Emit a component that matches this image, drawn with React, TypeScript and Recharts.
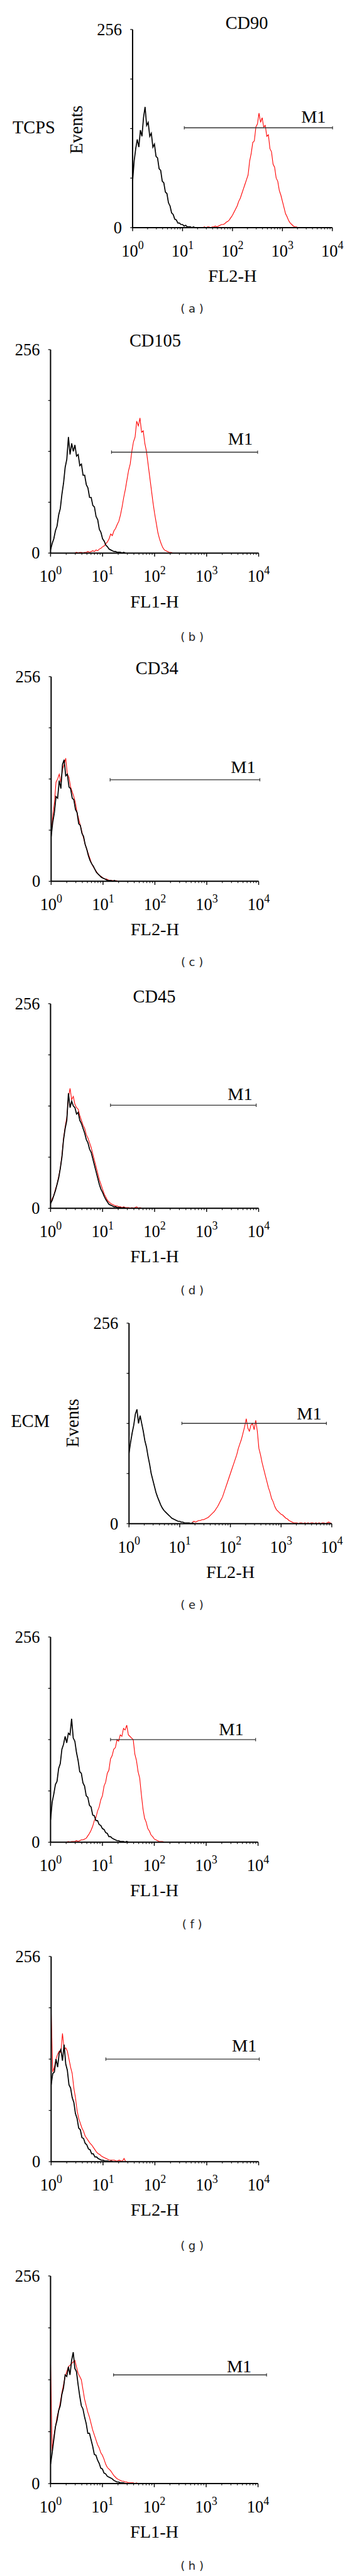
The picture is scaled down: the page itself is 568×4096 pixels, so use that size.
import { LineChart, Line, XAxis, YAxis, ReferenceLine } from "recharts";

const S = 0.946;
const W = 568;
const SERIF = '"Liberation Serif", "Times New Roman", serif';
const SANS = '"DejaVu Sans", Verdana, sans-serif';

// histogram counts are stored every STEP channels (1024 channels = 4 log decades)
const STEP = 8;

const TITLES = ["CD90", "CD105", "CD34", "CD45", "", "", "", ""];
const ROW_LABELS = ["TCPS", "", "", "", "ECM", "", "", ""];
const CHANNEL_NAMES = ["FL2-H", "FL1-H", "FL2-H", "FL1-H", "FL2-H", "FL1-H", "FL2-H", "FL1-H"];
const CAPTIONS = ["( a )", "( b )", "( c )", "( d )", "( e )", "( f )", "( g )", "( h )"];

const DECADE_TICKS = [0, 256, 512, 768, 1024];
const DECADE_EXP = ["0", "1", "2", "3", "4"];
const MINOR_TICKS = [
  77, 122, 154, 179, 199, 216, 231, 244,
  333, 378, 410, 435, 455, 472, 487, 500,
  589, 634, 666, 691, 711, 728, 743, 756,
  845, 890, 922, 947, 967, 984, 999, 1012,
];
const Y_TICKS = [0, 64, 128, 192, 256];
const Y_LABELED = [0, 256];

// M1 gate: start / end channel and height (events)
const M1_START = [265, 300, 291, 295, 267, 296, 270, 311];
const M1_END = [1025, 1019, 1030, 1012, 997, 1012, 1027, 1066];
const M1_LEVEL = [129, 127, 127, 129, 128, 128, 128, 134];

// isotype control (black), start channel 0
const ISO_A = [60, 86, 102, 114, 104, 126, 118, 142, 156, 132, 136, 118, 122, 104, 108, 92, 90, 76, 74, 60, 58, 46, 44, 32, 28, 19, 17, 11, 10, 6, 6, 4, 4, 2, 3, 1, 1, 1, 0, 1, 0, 0];
const ISO_B = [4, 12, 18, 28, 34, 48, 56, 74, 88, 108, 118, 146, 124, 138, 128, 136, 122, 124, 110, 112, 98, 98, 86, 82, 70, 70, 60, 58, 46, 42, 30, 26, 18, 15, 10, 8, 5, 4, 3, 2, 2, 1, 1, 1, 0, 1, 0];
const ISO_C = [56, 74, 86, 106, 104, 126, 116, 146, 152, 132, 134, 118, 116, 104, 102, 90, 86, 72, 70, 60, 56, 46, 40, 32, 26, 22, 19, 15, 11, 9, 7, 5, 4, 3, 2, 1, 1, 1, 0, 1, 0];
const ISO_D = [6, 10, 16, 22, 30, 38, 50, 64, 86, 100, 110, 144, 126, 134, 128, 126, 118, 120, 110, 106, 100, 94, 86, 82, 74, 70, 62, 54, 46, 38, 30, 24, 20, 15, 11, 8, 5, 4, 3, 2, 2, 1, 1, 1, 0, 1, 0];
const ISO_E = [90, 104, 116, 126, 140, 146, 128, 138, 128, 118, 106, 98, 86, 76, 64, 56, 48, 40, 34, 29, 24, 20, 17, 15, 13, 11, 9, 7, 6, 5, 4, 3, 3, 2, 2, 1, 1, 1, 1, 0, 1, 0];
const ISO_F = [28, 50, 60, 72, 76, 92, 98, 116, 122, 132, 124, 136, 134, 154, 130, 126, 112, 102, 88, 86, 74, 70, 58, 56, 46, 44, 34, 33, 27, 27, 22, 21, 17, 16, 12, 11, 7, 7, 5, 4, 3, 2, 2, 1, 1, 1, 0, 1, 0];
const ISO_G = [96, 110, 112, 128, 118, 136, 140, 126, 146, 122, 114, 96, 92, 80, 74, 60, 54, 42, 40, 30, 29, 23, 21, 16, 15, 10, 10, 6, 6, 4, 3, 2, 2, 1, 1, 1, 0, 1, 0];
const ISO_H = [24, 38, 54, 70, 78, 90, 96, 110, 118, 134, 132, 144, 134, 152, 162, 142, 138, 122, 108, 96, 92, 82, 74, 62, 62, 54, 46, 36, 35, 29, 25, 19, 18, 13, 12, 9, 8, 7, 6, 4, 3, 2, 2, 1, 1, 1, 0];

// stained sample (red)
const STAIN_START = [360, 120, 0, 0, 320, 80, 0, 0];
const STAIN_A = [0, 1, 0, 1, 1, 0, 1, 1, 2, 1, 2, 3, 4, 4, 5, 7, 8, 10, 13, 16, 20, 24, 28, 34, 38, 44, 50, 56, 62, 68, 86, 96, 110, 112, 130, 134, 148, 136, 142, 130, 132, 118, 120, 102, 98, 82, 78, 64, 60, 48, 42, 34, 26, 18, 14, 9, 6, 4, 2, 1, 1, 0];
const STAIN_B = [0, 1, 0, 1, 1, 0, 1, 1, 2, 1, 2, 3, 2, 4, 3, 5, 6, 8, 9, 12, 14, 18, 24, 22, 28, 31, 36, 40, 48, 58, 70, 80, 92, 104, 112, 128, 140, 146, 166, 160, 170, 152, 154, 138, 128, 112, 96, 80, 64, 50, 38, 26, 18, 12, 7, 4, 3, 2, 1, 1, 0];
const STAIN_C = [58, 82, 98, 124, 128, 134, 124, 140, 146, 154, 134, 130, 118, 112, 106, 98, 86, 78, 70, 62, 54, 46, 40, 34, 28, 22, 18, 15, 12, 9, 7, 6, 4, 3, 3, 2, 1, 1, 1, 0, 1, 0];
const STAIN_D = [6, 12, 16, 24, 30, 40, 50, 66, 88, 102, 114, 138, 150, 136, 140, 130, 126, 124, 116, 110, 104, 100, 92, 88, 82, 76, 68, 60, 52, 44, 36, 30, 24, 18, 14, 10, 8, 6, 5, 4, 3, 3, 2, 2, 1, 2, 1, 1, 1, 0, 1, 0, 1, 2, 0, 1, 0];
const STAIN_E = [2, 3, 2, 3, 4, 4, 5, 5, 6, 7, 8, 10, 12, 14, 16, 19, 22, 26, 30, 34, 40, 46, 52, 58, 64, 70, 76, 82, 88, 96, 102, 108, 116, 124, 134, 122, 118, 126, 128, 120, 132, 118, 96, 88, 78, 70, 62, 54, 46, 40, 32, 28, 22, 18, 16, 14, 12, 11, 9, 7, 6, 4, 3, 2, 1, 1, 1, 0, 1, 1, 0, 1, 0, 1, 0, 1, 1, 0, 1, 0, 1, 0, 1, 1, 0, 1, 2, 1, 0];
const STAIN_F = [0, 1, 0, 1, 1, 1, 2, 1, 2, 3, 3, 4, 5, 8, 11, 15, 20, 27, 31, 39, 44, 53, 58, 70, 75, 86, 90, 104, 108, 116, 118, 128, 126, 134, 132, 142, 140, 146, 134, 132, 130, 128, 110, 102, 88, 80, 60, 42, 30, 25, 17, 14, 9, 7, 4, 3, 2, 1, 1, 1, 0];
const STAIN_G = [188, 112, 118, 128, 134, 138, 136, 160, 140, 142, 138, 128, 118, 110, 92, 80, 64, 54, 48, 42, 38, 32, 29, 26, 23, 21, 18, 15, 12, 10, 9, 7, 6, 5, 4, 3, 2, 2, 2, 2, 1, 1, 2, 1, 1, 4, 0, 0];
const STAIN_H = [150, 40, 58, 70, 82, 90, 100, 112, 122, 132, 138, 144, 146, 148, 150, 152, 144, 136, 132, 128, 116, 104, 96, 88, 82, 74, 66, 60, 54, 48, 44, 38, 35, 30, 24, 20, 18, 16, 13, 10, 8, 6, 5, 4, 3, 3, 2, 2, 1, 1, 1, 1, 0, 1, 0];

const ISO = [ISO_A, ISO_B, ISO_C, ISO_D, ISO_E, ISO_F, ISO_G, ISO_H];
const STAIN = [STAIN_A, STAIN_B, STAIN_C, STAIN_D, STAIN_E, STAIN_F, STAIN_G, STAIN_H];

// layout in reference pixels (600 wide page), scaled by S when drawn
const LAYOUT = [
  { top: 50, bottom: 383, left: 223, right: 559, cap: 519, titleX: 415, titleY: 48.5, m1dx: -32, m1dy: -9 },
  { top: 588, bottom: 930, left: 85, right: 435, cap: 1071, titleX: 261, titleY: 582, m1dx: -29, m1dy: -13 },
  { top: 1137, bottom: 1481, left: 86, right: 435, cap: 1617, titleX: 264, titleY: 1133.5, m1dx: -28, m1dy: -12 },
  { top: 1687, bottom: 2031, left: 85, right: 435, cap: 2169, titleX: 259.5, titleY: 1685.5, m1dx: -27, m1dy: -9 },
  { top: 2224, bottom: 2561, left: 217, right: 558, cap: 2697, titleX: 0, titleY: 0, m1dx: -29, m1dy: -7 },
  { top: 2751, bottom: 3096, left: 85, right: 434, cap: 3234, titleX: 0, titleY: 0, m1dx: -41, m1dy: -7 },
  { top: 3289, bottom: 3634, left: 86, right: 435, cap: 3775, titleX: 0, titleY: 0, m1dx: -25, m1dy: -13 },
  { top: 3825, bottom: 4174, left: 85, right: 434, cap: 4313, titleX: 0, titleY: 0, m1dx: -46, m1dy: -4 },
];

function toPoints(start: number, counts: number[]) {
  return counts.map((n, i) => ({ ch: start + i * STEP, n }));
}

const XTick = (props: any) => {
  const { x, y, payload } = props;
  const k = DECADE_TICKS.indexOf(payload.value);
  if (k < 0) {
    return <line x1={x} x2={x} y1={y} y2={y + 3 * S} stroke="#000" strokeWidth={1} />;
  }
  return (
    <g>
      <line x1={x} x2={x} y1={y} y2={y + 6 * S} stroke="#000" strokeWidth={1.4} />
      <text x={x} y={y + 48.5 * S} textAnchor="middle" fontFamily={SERIF} fontSize={28 * S} fill="#000">
        10
        <tspan dy={-13 * S} fontSize={19 * S}>
          {DECADE_EXP[k]}
        </tspan>
      </text>
    </g>
  );
};

const YTick = (props: any) => {
  const { x, y, payload } = props;
  if (!Y_LABELED.includes(payload.value)) return <g />;
  return (
    <text x={x} y={y + 9.5 * S} textAnchor="end" fontFamily={SERIF} fontSize={28 * S} fill="#000">
      {payload.value}
    </text>
  );
};

function Histogram({ p }: { p: number }) {
  const L = LAYOUT[p];
  const height = (L.bottom - L.top + 130) * S;
  const m1s = M1_START[p];
  const m1e = M1_END[p];
  const lvl = M1_LEVEL[p];

  const m1Label = (lp: any) => {
    const vb = lp.viewBox || { x: 0, y: 0, width: 0 };
    return (
      <text
        x={vb.x + vb.width + L.m1dx * S}
        y={vb.y + L.m1dy * S}
        textAnchor="middle"
        fontFamily={SERIF}
        fontSize={30 * S}
        fill="#000"
      >
        M1
      </text>
    );
  };

  return (
    <div style={{ position: "absolute", left: 0, top: (L.top - 20) * S }}>
      <LineChart
        width={W}
        height={height}
        margin={{ top: 20 * S, bottom: 110 * S - 1, left: L.left * S - 1, right: W - L.right * S }}
      >
        <XAxis
          type="number"
          dataKey="ch"
          domain={[0, 1024]}
          allowDataOverflow
          ticks={[...DECADE_TICKS, ...MINOR_TICKS]}
          interval={0}
          tick={(tp: any) => <XTick {...tp} />}
          tickLine={false}
          tickSize={0}
          tickMargin={0}
          height={1}
          axisLine={{ stroke: "#000", strokeWidth: 2 }}
          label={{
            value: CHANNEL_NAMES[p],
            position: "bottom",
            offset: 65,
            fontFamily: SERIF,
            fontSize: 30 * S,
            fill: "#000",
          }}
        />
        <YAxis
          type="number"
          domain={[0, 256]}
          allowDataOverflow
          ticks={Y_TICKS}
          interval={0}
          width={1}
          tickSize={4 * S}
          tickMargin={14 * S}
          tickLine={{ stroke: "#000", strokeWidth: 1.2 }}
          axisLine={{ stroke: "#000", strokeWidth: 2 }}
          tick={(tp: any) => <YTick {...tp} />}
        />
        <Line
          data={toPoints(STAIN_START[p], STAIN[p])}
          dataKey="n"
          type="linear"
          stroke="#ff0000"
          strokeWidth={1.1}
          dot={false}
          activeDot={false}
          isAnimationActive={false}
        />
        <Line
          data={toPoints(0, ISO[p])}
          dataKey="n"
          type="linear"
          stroke="#000"
          strokeWidth={1.7}
          dot={false}
          activeDot={false}
          isAnimationActive={false}
        />
        <ReferenceLine
          segment={[{ x: m1s, y: lvl }, { x: m1e, y: lvl }]}
          stroke="#333"
          strokeWidth={1.4}
          ifOverflow="visible"
          label={m1Label}
        />
        <ReferenceLine
          segment={[{ x: m1s, y: lvl - 2 }, { x: m1s, y: lvl + 2 }]}
          stroke="#333"
          strokeWidth={1.2}
          ifOverflow="visible"
        />
        <ReferenceLine
          segment={[{ x: m1e, y: lvl - 2 }, { x: m1e, y: lvl + 2 }]}
          stroke="#333"
          strokeWidth={1.2}
          ifOverflow="visible"
        />
      </LineChart>
    </div>
  );
}

export default function App() {
  return (
    <div
      style={{
        position: "absolute",
        left: 0,
        top: 0,
        width: W,
        height: 4096,
        background: "#fff",
        overflow: "hidden",
      }}
    >
      {LAYOUT.map((_, p) => (
        <Histogram key={p} p={p} />
      ))}
      <svg
        width={W}
        height={4096}
        style={{ position: "absolute", left: 0, top: 0, pointerEvents: "none" }}
      >
        {LAYOUT.map((L, p) => (
          <g key={p}>
            {TITLES[p] && (
              <text x={L.titleX * S} y={L.titleY * S} textAnchor="middle" fontFamily={SERIF} fontSize={30 * S} fill="#000">
                {TITLES[p]}
              </text>
            )}
            {ROW_LABELS[p] && (
              <>
                <text
                  x={(L.left - 166) * S}
                  y={(L.top + 174) * S}
                  textAnchor="middle"
                  fontFamily={SERIF}
                  fontSize={30 * S}
                  fill="#000"
                >
                  {ROW_LABELS[p]}
                </text>
                <text
                  transform={`translate(${(L.left - 85) * S},${(L.top + 168) * S}) rotate(-90)`}
                  textAnchor="middle"
                  fontFamily={SERIF}
                  fontSize={30 * S}
                  fill="#000"
                >
                  Events
                </text>
              </>
            )}
            <text x={323 * S} y={(L.cap + 6.5) * S} textAnchor="middle" fontFamily={SANS} fontSize={19 * S} fill="#222">
              {CAPTIONS[p]}
            </text>
          </g>
        ))}
      </svg>
    </div>
  );
}
